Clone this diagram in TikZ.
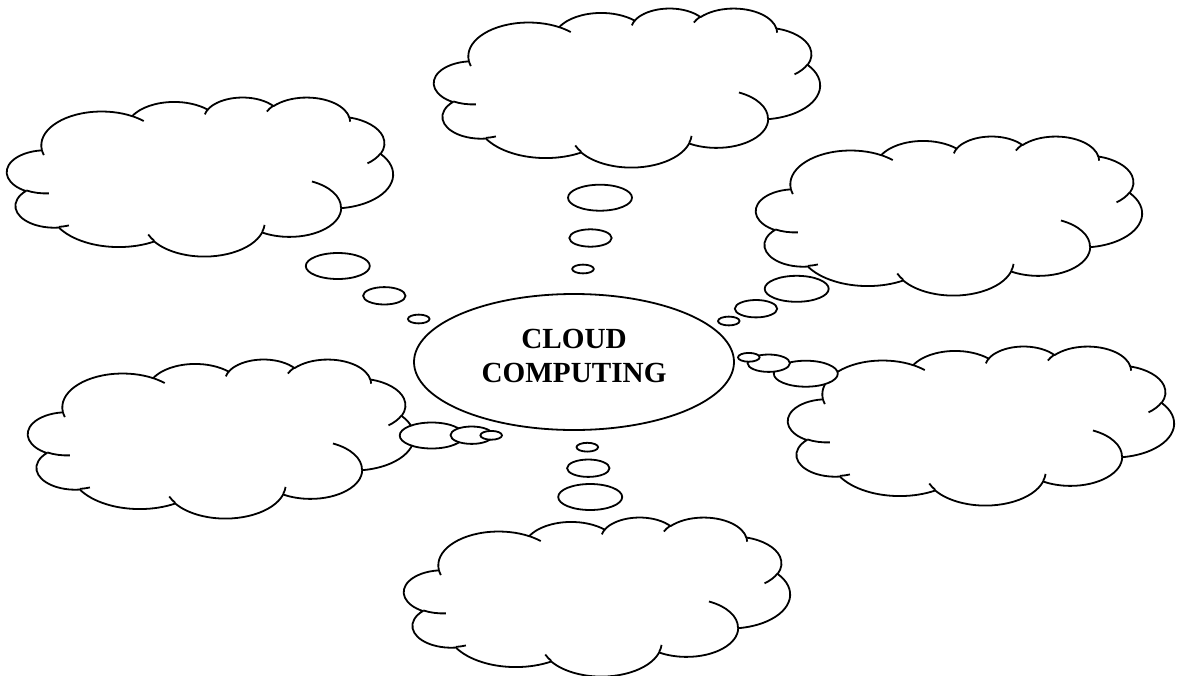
\documentclass[tikz,border=0pt]{standalone}
\usepackage{fontspec}
\setmainfont{Liberation Serif}
\usetikzlibrary{shapes.geometric}

\pgfmathdeclarefunction{visang}{3}{%
  \begingroup
    \pgfmathparse{(#1)+asin(sin(atan2((#2)*sin(#1),(#3)*cos(#1))-(#1)))}%
    \pgfmathsmuggle\pgfmathresult
  \endgroup}

\tikzset{
  cloudline/.style={line width=0.9pt, line join=round},
  varc/.style n args={4}{x radius=#1, y radius=#2,
    start angle={visang(#3,#1,#2)}, end angle={visang(#3+#4,#1,#2)}},
  bubble/.style={ellipse, draw, line width=0.9pt, fill=white, inner sep=0pt},
  bubblebig/.style={bubble, minimum width=32pt, minimum height=13pt},
  bubblemid/.style={bubble, minimum width=21.2pt, minimum height=8.7pt},
  bubblesmall/.style={bubble, minimum width=10.8pt, minimum height=4.4pt},
  hub/.style={ellipse, draw, line width=0.9pt, fill=white, inner sep=0pt,
    minimum width=160pt, minimum height=68pt},
  hubtext/.style={align=center, inner sep=0pt,
    font=\fontsize{14.6}{17}\selectfont\bfseries},
  cloudcallout/.pic={
    \begin{scope}[x=4.4676pt, y=-1.8403pt]
      \filldraw[cloudline, fill=white] (3.900,14.370)
        arc[varc={6.753}{9.190}{-190.4875}{123.7805}]
        arc[varc={5.333}{7.267}{-144.1024}{89.9452}]
        arc[varc={4.365}{5.945}{-145.8079}{99.7230}]
        arc[varc={4.857}{6.595}{-130.9861}{117.2417}]
        arc[varc={5.333}{7.273}{-78.7089}{109.0269}]
        arc[varc={6.775}{9.220}{-46.2673}{130.2690}]
        arc[varc={5.785}{7.867}{0.6250}{114.0333}]
        arc[varc={6.752}{9.215}{22.4516}{115.1726}]
        arc[varc={7.720}{10.543}{66.2426}{75.7110}]
        arc[varc={4.360}{5.918}{-274.9421}{146.7356}]
        arc[varc={4.345}{5.945}{-246.8285}{152.5189}]
        -- cycle;
      \draw[cloudline]
        (4.693,26.177) arc[varc={4.345}{5.945}{86.7420}{26.4295}]
        (6.928,34.899) arc[varc={4.360}{5.918}{73.6105}{11.4475}]
        (16.478,39.090) arc[varc={6.752}{9.215}{137.6242}{14.0811}]
        (28.827,34.751) arc[varc={6.752}{9.215}{6.4533}{15.9984}]
        (34.129,22.954) arc[varc={5.785}{7.867}{-70.2924}{70.9174}]
        (41.798,15.354) arc[varc={5.333}{7.273}{30.3180}{27.7515}]
        (38.324,5.426) arc[varc={4.857}{6.595}{-13.7443}{14.8589}]
        (29.078,3.952) arc[varc={4.857}{6.595}{-149.1815}{18.1954}]
        (22.141,4.720) arc[varc={4.365}{5.945}{-163.4943}{17.6864}]
        (14.000,5.192) arc[varc={6.753}{9.190}{-66.7070}{12.3194}]
        (4.127,15.789) arc[varc={6.753}{9.190}{157.6544}{11.8582}];
    \end{scope}
  }
}

\begin{document}
\begin{tikzpicture}[x=0.5pt,y=-0.5pt]
  \useasboundingbox (0,0) rectangle (1178,675);

  \node[hub] (hub) at (574,362) {};
  \node[hubtext] (hubtext) at (574,356) {CLOUD\\COMPUTING};

  \pic (topcloud) at (434,8) {cloudcallout};
  \pic (ulcloud) at (7,97) {cloudcallout};
  \pic (urcloud) at (756,136) {cloudcallout};
  \pic (mlcloud) at (28,359) {cloudcallout};
  \pic (mrcloud) at (788,346) {cloudcallout};
  \pic (botcloud) at (404,517) {cloudcallout};

  \foreach \c/\bx/\by/\mx/\my/\sx/\sy in {
      top/600/197.7/590.5/238/583/269,
      ul/337.8/266/384.3/295.8/418.7/319,
      ur/796.7/288.8/756/308.7/728.8/321,
      ml/431.7/435.5/471.7/435.2/491.2/435.3,
      mr/805.8/373.7/768.7/363.2/748.8/357.3,
      bot/590.2/497/588.3/468.2/587.3/447.2} {
    \node[bubblebig] (\c big) at (\bx,\by) {};
    \node[bubblemid] (\c mid) at (\mx,\my) {};
    \node[bubblesmall] (\c small) at (\sx,\sy) {};
  }
\end{tikzpicture}
\end{document}
